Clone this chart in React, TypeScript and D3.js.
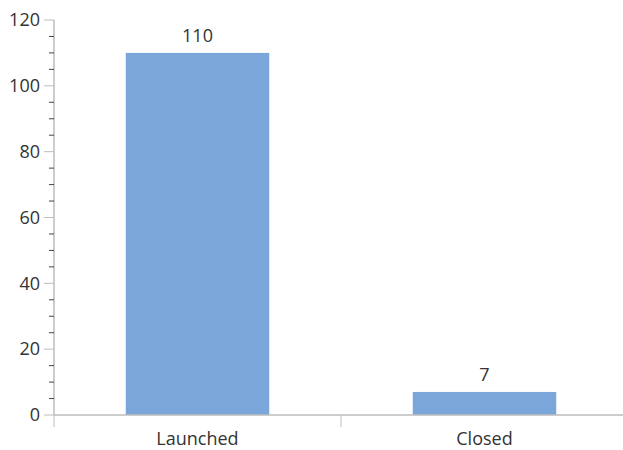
import React from "react";
import * as d3 from "d3";

const categories = ["Launched", "Closed"];
const values = [110, 7];
const yTicks = [0, 20, 40, 60, 80, 100, 120];

const W = 623;
const H = 450;
const left = 54;
const right = 628;
const top = 20;
const bottom = 415;

export default function App() {
  const x = d3.scaleBand<string>().domain(categories).range([left, right]).paddingInner(0).paddingOuter(0);
  const y = d3.scaleLinear().domain([0, 120]).range([bottom, top]);
  const minor = d3.range(0, 121, 5).filter((v) => v % 20 !== 0);
  const bw = x.bandwidth() * 0.5;
  const font = "'Open Sans', Lato, sans-serif";
  const fs = 18;
  const boundaries = [left, ...categories.map((c) => (x(c) as number) + x.bandwidth())];
  return (
    <svg width={W} height={H} style={{ position: "absolute", left: 0, top: 0 }} fontFamily={font}>
      {categories.map((c, i) => {
        const cx = (x(c) as number) + x.bandwidth() / 2;
        return (
          <g key={c}>
            <rect x={cx - bw / 2} y={y(values[i])} width={bw} height={bottom - y(values[i])} fill="#7ba6d9" />
            <text x={cx} y={y(values[i]) - 11} textAnchor="middle" fontSize={fs} fill="#333">
              {values[i]}
            </text>
            <text x={cx} y={445} textAnchor="middle" fontSize={fs} fill="#333">
              {c}
            </text>
          </g>
        );
      })}
      {/* x axis */}
      <line x1={left} x2={W} y1={bottom} y2={bottom} stroke="#bdbdbd" strokeWidth={1.5} />
      {boundaries.map((b, i) => (
        <line key={i} x1={b} x2={b} y1={bottom} y2={427} stroke="#bdbdbd" strokeWidth={1} />
      ))}
      {/* y axis */}
      <line x1={left} x2={left} y1={top} y2={bottom} stroke="#bdbdbd" strokeWidth={1.5} />
      {minor.map((v) => (
        <line key={v} x1={49} x2={left} y1={y(v)} y2={y(v)} stroke="#444" strokeWidth={1} />
      ))}
      {yTicks.map((v) => (
        <g key={v}>
          <line x1={44} x2={left} y1={y(v)} y2={y(v)} stroke="#bdbdbd" strokeWidth={1} />
          <text x={40} y={y(v)} dy="0.35em" textAnchor="end" fontSize={fs} fill="#333">
            {v}
          </text>
        </g>
      ))}
    </svg>
  );
}
